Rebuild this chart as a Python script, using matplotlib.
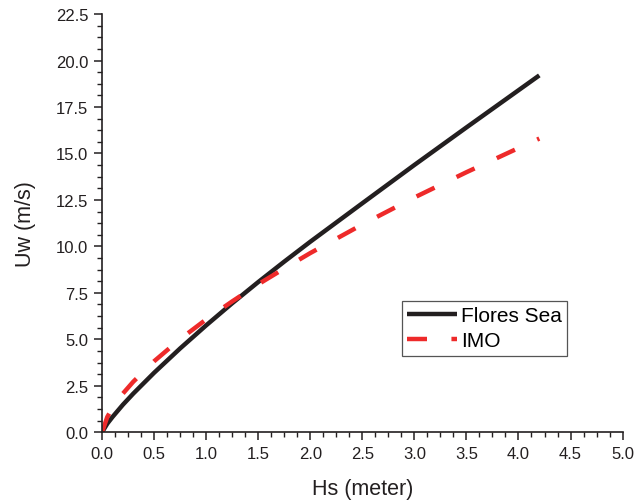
import matplotlib
matplotlib.use("Agg")
import matplotlib.pyplot as plt
from matplotlib.ticker import MultipleLocator, FormatStrFormatter

# values
hs = [0.0, 0.05, 0.1, 0.2, 0.3, 0.5, 0.75, 1.0, 1.25, 1.5, 1.75, 2.0, 2.5, 3.0, 3.5, 4.0, 4.2]
uw_flores = [0.0, 0.46, 0.82, 1.48, 2.08, 3.20, 4.51, 5.75, 6.94, 8.08, 9.18, 10.25,
             12.32, 14.38, 16.40, 18.40, 19.20]
uw_imo = [0.0, 0.82, 1.31, 2.08, 2.72, 3.82, 5.01, 6.07, 7.04, 7.96, 8.81, 9.64,
          11.18, 12.63, 13.99, 15.29, 15.80]

plt.rcParams["font.family"] = ["Liberation Sans", "DejaVu Sans"]

fig = plt.figure(figsize=(6.34, 5.02), dpi=100)
ax = fig.add_axes([0.161, 0.137, 0.821, 0.833])

ax.plot(hs, uw_flores, color="#231f20", lw=3.2, label="Flores Sea", solid_capstyle="butt")
ax.plot(hs, uw_imo, color="#ee2a2a", lw=3.2, dashes=(4.5, 5.5), label="IMO")

ax.set_xlim(0, 5.0)
ax.set_ylim(0, 22.5)
ax.xaxis.set_major_locator(MultipleLocator(0.5))
ax.xaxis.set_minor_locator(MultipleLocator(0.125))
ax.yaxis.set_major_locator(MultipleLocator(2.5))
ax.yaxis.set_minor_locator(MultipleLocator(0.625))
ax.xaxis.set_major_formatter(FormatStrFormatter("%.1f"))
ax.yaxis.set_major_formatter(FormatStrFormatter("%.1f"))

for side in ("top", "right"):
    ax.spines[side].set_visible(False)
for side in ("left", "bottom"):
    ax.spines[side].set_linewidth(1.2)
    ax.spines[side].set_color("#231f20")

ax.tick_params(which="major", direction="out", length=6, width=1.1, labelsize=12,
               colors="#231f20", pad=4)
ax.tick_params(which="minor", direction="out", length=3.5, width=1.0, colors="#231f20")

ax.set_xlabel("Hs (meter)", fontsize=15.5, color="#231f20", labelpad=12)
ax.set_ylabel("Uw (m/s)", fontsize=15.5, color="#231f20", labelpad=14)

leg = ax.legend(loc="upper left", bbox_to_anchor=(0.576, 0.314), borderaxespad=0,
                fontsize=15, fancybox=False, framealpha=1, handlelength=2.4,
                handletextpad=0.2, labelspacing=0.3, borderpad=0.25)
leg.get_frame().set_edgecolor("#555555")
leg.get_frame().set_linewidth(0.9)

fig.savefig("out.png", dpi=100)
